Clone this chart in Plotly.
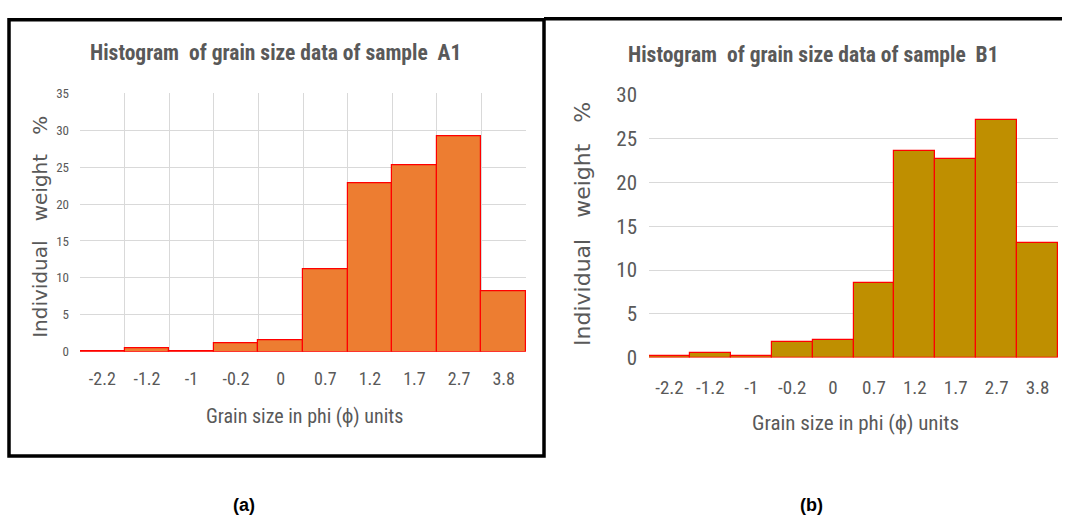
import plotly.graph_objects as go

categories = ["-2.2", "-1.2", "-1", "-0.2", "0", "0.7", "1.2", "1.7", "2.7", "3.8"]
a1_values = [0.15, 0.55, 0.15, 1.15, 1.55, 11.2, 22.8, 25.2, 29.2, 8.2]
b1_values = [0.15, 0.55, 0.15, 1.75, 1.95, 8.55, 23.55, 22.7, 27.2, 13.05]
a1_yticks = [0, 5, 10, 15, 20, 25, 30, 35]
b1_yticks = [0, 5, 10, 15, 20, 25, 30]

W, H = 1066, 529
def px(x):
    return x / W
def py(y):
    return 1 - y / H

NARROW = "Roboto Condensed, Liberation Sans, sans-serif"
WIDE = "DejaVu Sans, Verdana, sans-serif"
GRAY = "#595959"
NB = "\u00a0"

fig = go.Figure()
fig.add_trace(go.Bar(x=categories, y=a1_values, xaxis="x", yaxis="y",
                     marker=dict(color="#ED7D31", line=dict(color="#FF0000", width=1.2)),
                     showlegend=False, hoverinfo="skip"))
fig.add_trace(go.Bar(x=categories, y=b1_values, xaxis="x2", yaxis="y2",
                     marker=dict(color="#BF8F00", line=dict(color="#FF0000", width=1.2)),
                     showlegend=False, hoverinfo="skip"))

fig.update_layout(
    width=W, height=H,
    margin=dict(l=0, r=0, t=0, b=0),
    paper_bgcolor="white", plot_bgcolor="white",
    bargap=0,
    xaxis=dict(domain=[px(80), px(526)], anchor="y", type="category",
               tickson="boundaries", showgrid=True, gridcolor="#d9d9d9", gridwidth=1,
               ticks="", showline=False, zeroline=False,
               tickfont=dict(family=NARROW, size=18, color=GRAY),
               ticklabelstandoff=14, fixedrange=True),
    yaxis=dict(domain=[py(356), py(85)], anchor="x", range=[0, 35],
               tickvals=a1_yticks, showgrid=True, gridcolor="#d9d9d9", gridwidth=1,
               zeroline=False, showline=False, ticks="",
               tickfont=dict(family=NARROW, size=13, color=GRAY),
               ticklabelstandoff=10, fixedrange=True),
    xaxis2=dict(domain=[px(649), px(1058)], anchor="y2", type="category",
                showgrid=False, ticks="", showline=False, zeroline=False,
                tickfont=dict(family=NARROW, size=19, color=GRAY),
                ticklabelstandoff=16, fixedrange=True),
    yaxis2=dict(domain=[py(362), py(87)], anchor="x2", range=[0, 30],
                tickvals=b1_yticks, showgrid=True, gridcolor="#d9d9d9", gridwidth=1,
                zeroline=False, showline=False, ticks="",
                tickfont=dict(family=NARROW, size=21, color=GRAY),
                ticklabelstandoff=11, fixedrange=True),
)

annotations = [
    dict(text=f"<b>Histogram{NB} of grain size data of sample{NB} A1</b>", x=px(275), y=py(42),
         font=dict(family=NARROW, size=21.5, color=GRAY)),
    dict(text=f"<b>Histogram{NB} of grain size data of sample{NB} B1</b>", x=px(813), y=py(45),
         font=dict(family=NARROW, size=21.5, color=GRAY)),
    dict(text=f"Individual{NB}{NB} weight{NB}{NB} %", x=px(40), y=py(225), textangle=-90,
         font=dict(family=WIDE, size=20, color=GRAY)),
    dict(text=f"Individual{NB}{NB} weight{NB}{NB} %", x=px(583), y=py(222), textangle=-90,
         font=dict(family=WIDE, size=22, color=GRAY)),
    dict(text="Grain size in phi (\u03d5) units", x=px(304), y=py(423),
         font=dict(family=NARROW, size=20, color=GRAY)),
    dict(text="Grain size in phi (\u03d5) units", x=px(855), y=py(431),
         font=dict(family=NARROW, size=21, color=GRAY)),
    dict(text="<b>(a)</b>", x=px(244), y=py(516), font=dict(family="Liberation Sans, Arial, sans-serif", size=18, color="black")),
    dict(text="<b>(b)</b>", x=px(811), y=py(516), font=dict(family="Liberation Sans, Arial, sans-serif", size=18, color="black")),
]
for a in annotations:
    a.update(xref="paper", yref="paper", showarrow=False, xanchor="center", yanchor="middle")
fig.update_layout(annotations=annotations)

fig.update_layout(shapes=[
    dict(type="rect", xref="paper", yref="paper", x0=px(9), x1=px(544), y0=py(465), y1=py(8),
         line=dict(color="black", width=3.5), fillcolor="rgba(0,0,0,0)"),
    dict(type="line", xref="paper", yref="paper", x0=px(544), x1=px(1062), y0=py(7), y1=py(7),
         line=dict(color="black", width=3.5)),
])

fig.write_html("out.html", config=dict(displayModeBar=False),
               post_script="document.body.style.margin='0';document.documentElement.style.overflow='hidden';document.body.style.overflow='hidden';")
